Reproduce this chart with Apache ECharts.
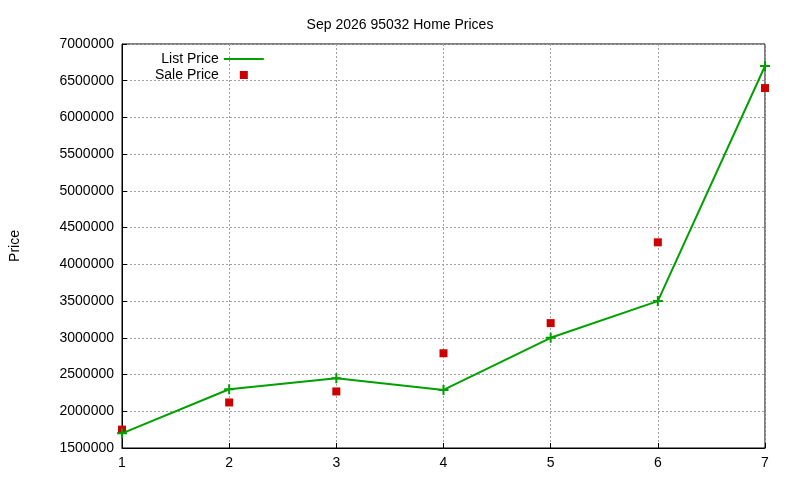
<!DOCTYPE html>
<html><head><meta charset="utf-8">
<script src="https://cdn.jsdelivr.net/npm/echarts@6/dist/echarts.min.js"></script>
<style>html,body{margin:0;padding:0;background:#fff}#c{width:800px;height:480px}</style>
</head><body><div id="c"></div>
<script>
const months = [1,2,3,4,5,6,7];
const listPrice = [1700000,2300000,2450000,2290000,3000000,3500000,6700000];
const salePrice = [1750000,2120000,2270000,2790000,3200000,4300000,6400000];
const title = "Sep 2026 95032 Home Prices";
const font = "Liberation Sans, Arial, sans-serif";
const chart = echarts.init(document.getElementById('c'));
const gridLine = {show:true,lineStyle:{color:'#a0a0a0',type:[2,2],width:1}};
chart.setOption({
  animation:false,
  title:{text:title,left:'center',top:13,textStyle:{fontFamily:font,fontSize:14,fontWeight:'normal',color:'#000'}},
  grid:{left:119,right:35,top:44,bottom:32,show:true,borderColor:'#000',borderWidth:1},
  legend:{orient:'vertical',left:150,top:47,align:'right',itemGap:2,itemWidth:40,itemHeight:12,
    textStyle:{fontFamily:font,fontSize:14,color:'#000'},
    data:[{name:'List Price',icon:'path://M0,5L40,5L40,7L0,7Z'},
          {name:'Sale Price',icon:'path://M0,0L0.01,0L0.01,0.01Z M40,12L39.99,12L39.99,11.99Z M16,2L24,2L24,10L16,10Z'}]},
  xAxis:{type:'value',min:1,max:7,interval:1,
    axisLine:{lineStyle:{color:'#000'}},axisTick:{inside:true,lineStyle:{color:'#000'}},
    axisLabel:{fontFamily:font,fontSize:14,color:'#000'},splitLine:gridLine},
  yAxis:{type:'value',min:1500000,max:7000000,interval:500000,name:'Price',nameLocation:'middle',nameGap:100,
    nameTextStyle:{fontFamily:font,fontSize:14,color:'#000'},
    axisLine:{show:true,lineStyle:{color:'#000'}},axisTick:{inside:true,lineStyle:{color:'#000'}},
    axisLabel:{fontFamily:font,fontSize:14,color:'#000',formatter:v=>String(v)},splitLine:gridLine},
  series:[
    {name:'List Price',type:'line',data:months.map((m,i)=>[m,listPrice[i]]),
     color:'#00a000',lineStyle:{width:2},symbol:'path://M4,0L6,0L6,4L10,4L10,6L6,6L6,10L4,10L4,6L0,6L0,4L4,4Z',symbolSize:10},
    {name:'Sale Price',type:'scatter',data:months.map((m,i)=>[m,salePrice[i]]),
     color:'#cc0000',itemStyle:{opacity:1},symbol:'rect',symbolSize:8}
  ]
});
</script></body></html>
